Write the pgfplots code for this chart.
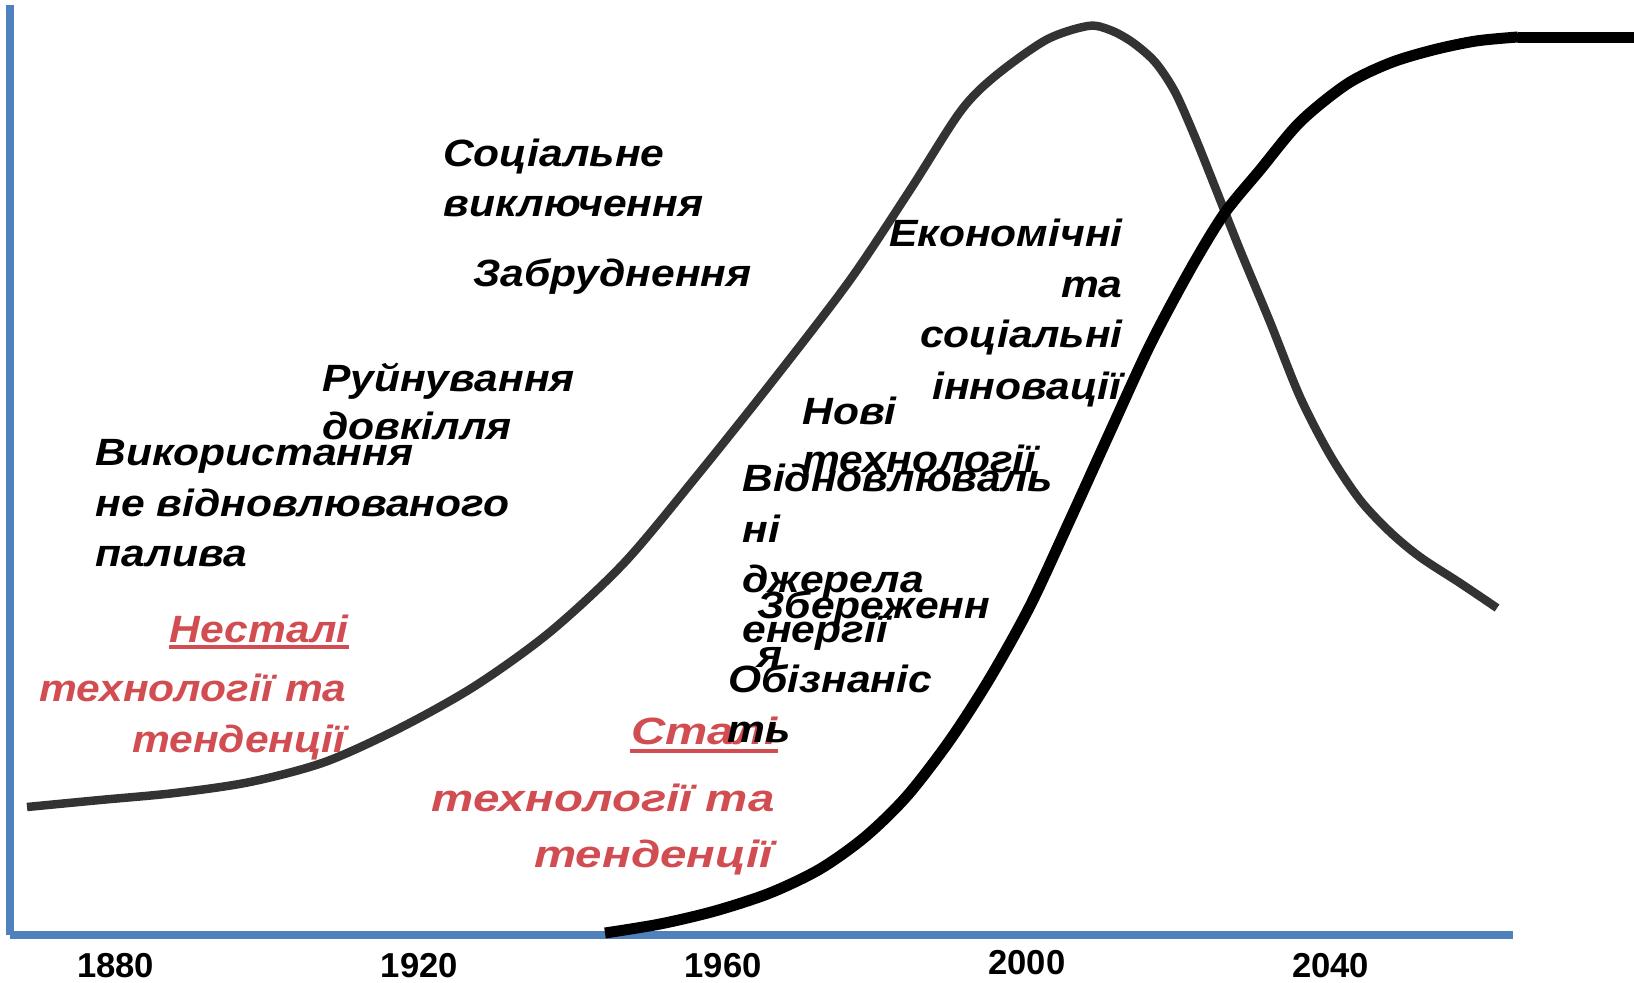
\documentclass[border=0pt]{standalone}
\usepackage{pgfplots}
\pgfplotsset{compat=1.18}
\usepackage{fontspec}
\setmainfont{Liberation Sans}
\newfontfamily\labfont[FakeStretch=1.12]{Liberation Sans}
\newfontfamily\redAfont[FakeStretch=1.12]{Liberation Sans}
\newfontfamily\redBfont[FakeStretch=1.25]{Liberation Sans}
\definecolor{axisblue}{RGB}{79,129,189}
\definecolor{curvegray}{RGB}{51,51,51}
\definecolor{txtred}{RGB}{209,77,82}
\newcommand\T[4]{\node[anchor=#3,inner sep=0pt,text=black,font=\labfont\bfseries\itshape\fontsize{19}{19}\selectfont] at ({#1*0.5pt},{-#2*0.5pt}) {#4};}
\newcommand\RA[4]{\node[anchor=#3,inner sep=0pt,text=txtred,font=\redAfont\bfseries\itshape\fontsize{19}{19}\selectfont] at ({#1*0.5pt},{-#2*0.5pt}) {#4};}
\newcommand\RB[4]{\node[anchor=#3,inner sep=0pt,text=txtred,font=\redBfont\bfseries\itshape\fontsize{19}{19}\selectfont] at ({#1*0.5pt},{-#2*0.5pt}) {#4};}
\begin{document}
\begin{tikzpicture}
\path[use as bounding box] (0,0) rectangle (817pt,-491.5pt);
\begin{axis}[
  at={(5pt,-467.5pt)}, anchor=south west,
  scale only axis, width=751.5pt, height=465pt,
  xmin=1866.11, xmax=2064.0, ymin=0, ymax=930,
  axis x line=bottom, axis y line=left,
  axis line style={draw=axisblue, line width=4pt, -},
  xtick={1880,1920,1960,2040},
  xticklabels={1880,1920,1960,2040},
  extra x ticks={2000},
  extra x tick labels={2000},
  extra x tick style={xticklabel style={yshift=1.6pt}},
  ytick=\empty,
  major tick length=0pt,
  xticklabel style={font=\bfseries\fontsize{17.3}{17.3}\selectfont, inner sep=0pt, yshift=-9pt, anchor=north},
  clip=false,
]
\addplot[curvegray, line width=4.25pt, smooth] coordinates {
(1868.35,128) (1877.96,135) (1887.83,142) (1897.71,153) (1907.58,173)
(1917.46,207) (1927.33,249) (1937.21,303) (1947.08,373) (1956.96,463)
(1966.83,557) (1976.71,655) (1984.61,745) (1991.19,823)
(1995.67,858) (2002.51,895) (2008.04,909) (2010.94,905) (2013.84,893)
(2016.87,873) (2019.50,843) (2022.13,798) (2024.77,748) (2028.06,685)
(2032.01,613) (2035.96,538) (2039.91,480) (2043.86,435) (2047.81,403)
(2051.76,378) (2057.02,352) (2061.90,327)
};
\addplot[black, line width=5.5pt, smooth] coordinates {
(1944.45,2) (1951.69,11) (1958.93,24) (1966.18,42) (1972.76,66)
(1978.68,98) (1984.21,139) (1989.88,195) (1995.14,257) (2000.41,329)
(2005.67,415) (2010.94,503) (2016.21,590) (2021.47,665) (2025.95,721)
(2030.69,765) (2035.96,813) (2042.15,851) (2047.81,872) (2053.47,885)
(2059.13,894) (2064.66,898)
};
\addplot[black, line width=5.5pt] coordinates {(2064.66,897) (2079.93,897)};
\end{axis}
% black labels
\T{442.7}{166.7}{base west}{Соціальне}
\T{443}{216.7}{base west}{виключення}
\T{473}{286.7}{base west}{Забруднення}
\T{321.7}{391.7}{base west}{Руйнування}
\T{322}{440}{base west}{довкілля}
\T{95}{466}{base west}{Використання}
\T{95}{517}{base west}{не відновлюваного}
\T{95}{567}{base west}{палива}
% red labels
\RA{349}{643}{base east}{Несталі}
\draw[txtred, line width=2pt] (169*0.5pt,-647.5*0.5pt) -- (349*0.5pt,-647.5*0.5pt);
\RA{347}{702}{base east}{технології та}
\RA{346}{753}{base east}{тенденції}
\RB{778}{745}{base east}{Сталі}
\draw[txtred, line width=2pt] (630*0.5pt,-751.5*0.5pt) -- (778*0.5pt,-751.5*0.5pt);
\RB{775}{812}{base east}{технології та}
\RB{773}{867}{base east}{тенденції}
% right block
\T{1123}{247}{base east}{Економічні}
\T{1123}{298}{base east}{та}
\T{1123}{348}{base east}{соціальні}
\T{1122}{400}{base east}{інновації}
\T{802}{425}{base west}{Нові}
\T{802}{473}{base west}{технології}
\T{742}{492}{base west}{Відновлюваль}
\T{742}{543}{base west}{ні}
\T{742}{593}{base west}{джерела}
\T{742}{643}{base west}{енергії}
\T{757}{619}{base west}{Збереженн}
\T{757}{668}{base west}{я}
\T{728}{693}{base west}{Обізнаніс}
\T{727}{743}{base west}{ть}
\end{tikzpicture}
\end{document}
